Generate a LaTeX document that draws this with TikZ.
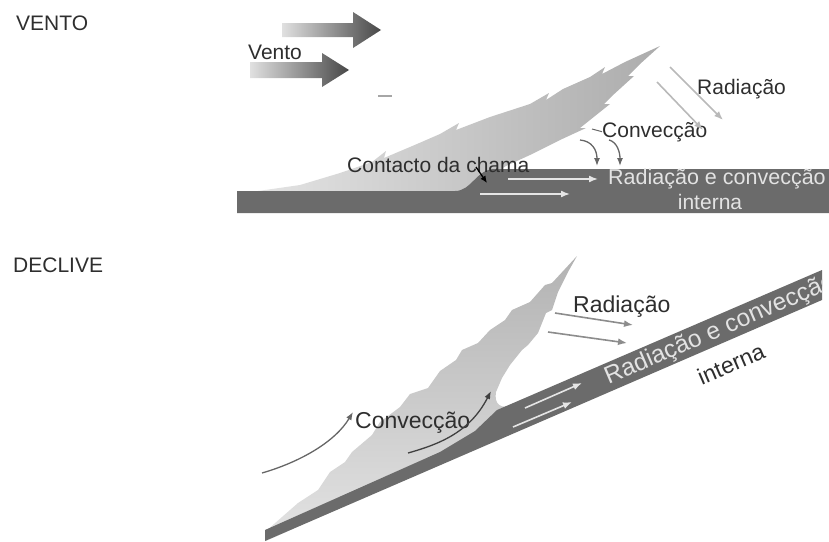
\documentclass[tikz,border=0pt]{standalone}
\usepackage{fontspec}
\setmainfont{Liberation Sans}
\usetikzlibrary{arrows.meta}
\definecolor{barra}{HTML}{6B6B6B}
\definecolor{texto}{HTML}{2E2E2E}
\tikzstyle{etiqueta} = [font=\fontsize{21}{25}\selectfont, text=texto, inner sep=0pt, anchor=base west]
\tikzstyle{etiquetagrande} = [etiqueta, font=\fontsize{23}{27}\selectfont]
\tikzstyle{etiquetabarra} = [etiqueta, text=gray!22]
\tikzstyle{flecha} = [line width=1.6pt, -{Latex[length=9pt,width=7pt]}]
\tikzstyle{radclara} = [flecha, draw=gray!55]
\tikzstyle{radescura} = [flecha, draw=gray!90]
\tikzstyle{setainterna} = [flecha, draw=gray!20]
\tikzstyle{setaconv} = [flecha, line width=1.3pt, draw=black!60, -{Latex[length=8pt,width=6pt]}]
\tikzstyle{vento} = [left color=black!12, right color=black!72]

\begin{document}
\begin{tikzpicture}[x=1pt,y=-1pt]
		\useasboundingbox (0,0) rectangle (829,541);
		% vento
		\shade[vento] (282,23) -- (353,23) -- (353,12) -- (381,30) -- (353,48) -- (353,37) -- (282,37) -- cycle;
		\shade[vento] (250,62) -- (322,62) -- (322,53) -- (349,70) -- (322,87) -- (322,78) -- (250,78) -- cycle;
		\draw[gray!70, line width=1.5pt] (378,96) -- (392,96);
		\shade[left color=gray!22, right color=gray!65]
			(258,191) -- (300,185) -- (340,173) -- (372,162) -- (386,151) -- (384,158) -- (417,144) -- (440,134)
			-- (459,123) -- (456,130) -- (490,117) -- (530,104) -- (549,93) -- (546,100) -- (563,89) -- (590,77)
			-- (605,67) -- (602,74) -- (625,62) -- (660,46) -- (640,64) -- (628,76) -- (634,76) -- (612,96)
			-- (604,104) -- (610,104) -- (590,120) -- (580,128) -- (586,128) -- (560,140) -- (530,155)
			-- (506,166) -- (490,176) -- (478,191) -- cycle;
		\fill[barra] (237,191) -- (455,191) .. controls (472,191) and (476,169) .. (495,169) -- (829,169)
			-- (829,213) -- (237,213) -- cycle;
		\node[etiqueta] (tituloA) at (16,30) {VENTO};
		\node[etiqueta] (ventoA) at (248,59) {Vento};
		\node[etiqueta] (contacto) at (347,172) {Contacto da chama};
		\node[etiqueta] (radA) at (697,94) {Radiação};
		\node[etiqueta] (convA) at (602,137) {Convecção};
		\node[etiquetabarra, font=\fontsize{21.5}{25}\selectfont] (internaA) at (608,184) {Radiação e convecção};
		\node[etiquetabarra, anchor=base] (internaA2) at (710,209) {interna};
		\coordinate (contactoA) at (476,167);
		\coordinate (contactoB) at (487,183);
		\draw[black, line width=1.3pt, -{Latex[length=7pt,width=6pt]}] (contactoA) -- (contactoB);
		\coordinate (radA1) at (670,67);
		\coordinate (radA1b) at (723,120);
		\coordinate (radA2) at (657,82);
		\coordinate (radA2b) at (703,130);
		\draw[radclara] (radA1) -- (radA1b);
		\draw[radclara] (radA2) -- (radA2b);
		\coordinate (tracoA) at (592,129);
		\draw[black!60, line width=1pt] (tracoA) -- (convA.west);
		\coordinate (convA1) at (580,140);
		\coordinate (convA1b) at (597,166);
		\coordinate (convA2) at (609,140);
		\coordinate (convA2b) at (620,166);
		\draw[setaconv] (convA1) .. controls (592,141) and (597,150) .. (convA1b);
		\draw[setaconv] (convA2) .. controls (617,142) and (620,152) .. (convA2b);
		\coordinate (intA1) at (508,179);
		\coordinate (intA1b) at (598,179);
		\coordinate (intA2) at (480,194);
		\coordinate (intA2b) at (570,194);
		\draw[setainterna] (intA1) -- (intA1b);
		\draw[setainterna] (intA2) -- (intA2b);
		% declive
		\shade[top color=gray!60, bottom color=gray!22]
			(266,531) -- (298,503) -- (318,490) -- (330,472) -- (345,462) -- (352,452) -- (372,435) -- (380,422)
			-- (400,407) -- (410,394) -- (428,388) -- (440,371) -- (456,360) -- (462,350) -- (478,343) -- (490,330)
			-- (505,320) -- (512,310) -- (530,302) -- (545,285) -- (552,283) -- (577,256) -- (568,272) -- (558,292)
			-- (552,310) -- (546,313) -- (538,333) -- (528,345) -- (522,350) -- (510,365) -- (502,378) -- (496,392)
			.. controls (494,404) and (500,410) .. (515,405) -- (480,445) -- (266,541) -- cycle;
		\fill[barra] (265,541) -- (265,530) -- (440,452) -- (475,431) -- (497,410) -- (822,270) -- (822,300) -- cycle;
		\begin{scope}
			\clip (265,541) -- (265,530) -- (440,452) -- (475,431) -- (497,410) -- (822,270) -- (822,300) -- cycle;
			\node[etiquetabarra, font=\fontsize{24.5}{28}\selectfont, anchor=west, rotate=23.3] (internaB) at (606,379) {Radiação e convecção};
		\end{scope}
		\node[etiquetagrande, anchor=center, rotate=23.3] (internaB2) at (731,364) {interna};
		\node[etiqueta] (tituloB) at (13,272) {DECLIVE};
		\node[etiquetagrande] (radB) at (573,312) {Radiação};
		\node[etiquetagrande] (convB) at (355,428) {Convecção};
		\coordinate (radB1) at (555,313);
		\coordinate (radB1b) at (633,325);
		\coordinate (radB2) at (548,332);
		\coordinate (radB2b) at (627,343);
		\draw[radescura] (radB1) -- (radB1b);
		\draw[radescura] (radB2) -- (radB2b);
		\coordinate (intB1) at (525,408);
		\coordinate (intB1b) at (582,383);
		\coordinate (intB2) at (513,427);
		\coordinate (intB2b) at (572,402);
		\draw[setainterna] (intB1) -- (intB1b);
		\draw[setainterna] (intB2) -- (intB2b);
		\coordinate (convB1) at (262,473);
		\coordinate (convB1b) at (353,412);
		\coordinate (convB2) at (408,453);
		\coordinate (convB2b) at (491,391);
		\draw[setaconv] (convB1) .. controls (300,462) and (335,442) .. (convB1b);
		\draw[setaconv, draw=black!75] (convB2) .. controls (440,444) and (470,432) .. (convB2b);
	\end{tikzpicture}
\end{document}
